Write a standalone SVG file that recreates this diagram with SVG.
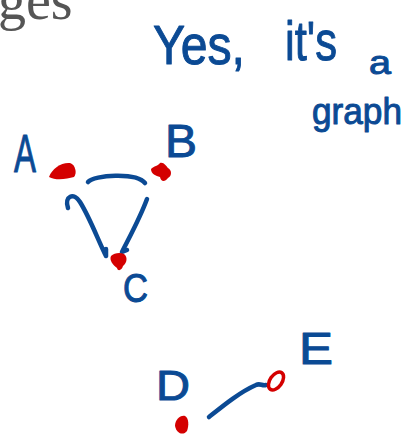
<svg xmlns="http://www.w3.org/2000/svg" width="409" height="436" viewBox="0 0 409 436">
<style>
.hw{font-family:"Liberation Sans","DejaVu Sans",sans-serif;fill:#0b4a94;stroke:#0b4a94;stroke-width:1;stroke-linejoin:round}
.dot{fill:#d40000}
.edge{fill:none;stroke:#0b4a94;stroke-width:4.5;stroke-linecap:round;stroke-linejoin:round}
</style>
<rect width="409" height="436" fill="#ffffff"/>
<text x="-2" y="19" font-family="Liberation Serif,serif" font-size="56" fill="#555555">ges</text>
<g id="note">
<text class="hw" x="153" y="64" font-size="56" textLength="92" lengthAdjust="spacingAndGlyphs">Yes,</text>
<text class="hw" x="285" y="60" font-size="56" textLength="52" lengthAdjust="spacingAndGlyphs">it's</text>
<text class="hw" x="369" y="74" font-size="34" textLength="22" lengthAdjust="spacingAndGlyphs">a</text>
<text class="hw" x="312" y="124" font-size="37" textLength="90" lengthAdjust="spacingAndGlyphs">graph</text>
</g>
<g id="connectors">
<path class="edge" d="M88,182 C94,175 136,172 145,183"/>
<path class="edge" d="M68,208 C64,196 74,192 80,202 C90,218 98,240 106,256 M106,256 L106,249"/>
<path class="edge" d="M147,199 C140,218 130,236 122,252 M122,252 L127,250"/>
<path class="edge" d="M209,417 C224,405 240,392 256,385 C260,383 262,386 266,385"/>
</g>
<g id="node-A">
<text class="hw" x="14" y="172" font-size="54" textLength="22" lengthAdjust="spacingAndGlyphs">A</text>
<path class="dot" d="M49,177 C52,168 62,162 70,163 C76,165 77,174 74,177 C67,179 56,181 49,177 Z"/>
</g>
<g id="node-B">
<text class="hw" x="165" y="157" font-size="46" textLength="32" lengthAdjust="spacingAndGlyphs">B</text>
<path class="dot" d="M151,169 C154,166 158,166 160,163 C164,162 166,166 168,168 C172,170 172,176 168,178 C165,182 161,182 160,177 C156,176 151,174 151,169 Z"/>
</g>
<g id="node-C">
<text class="hw" x="123" y="302" font-size="40" textLength="25" lengthAdjust="spacingAndGlyphs">C</text>
<path class="dot" d="M111,256 C114,253 120,252 124,254 C128,257 127,263 123,266 C122,270 118,272 117,268 C113,265 109,260 111,256 Z"/>
</g>
<g id="node-D">
<text class="hw" x="156" y="400" font-size="42" textLength="34" lengthAdjust="spacingAndGlyphs">D</text>
<path class="dot" d="M175,426 C175,420 180,415 185,416 C189,418 189,426 187,431 C184,435 177,435 175,426 Z"/>
</g>
<g id="node-E">
<text class="hw" x="299" y="364" font-size="44" textLength="34" lengthAdjust="spacingAndGlyphs">E</text>
<ellipse cx="276" cy="381" rx="6" ry="10" transform="rotate(35 276 381)" fill="none" stroke="#d40000" stroke-width="3.5"/>
</g>
</svg>
